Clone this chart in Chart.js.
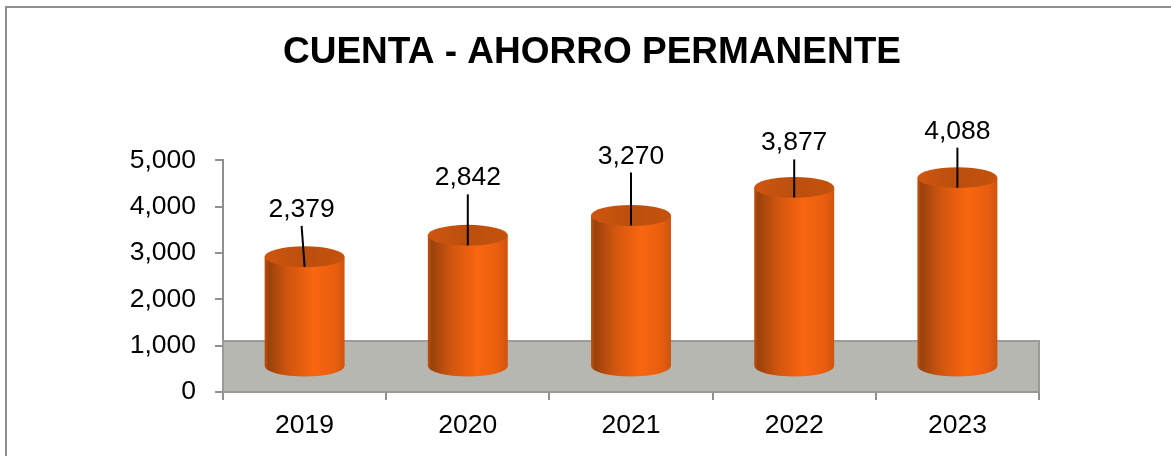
<!DOCTYPE html>
<html>
<head>
<meta charset="utf-8">
<title>Cuenta - Ahorro Permanente</title>
<script src="https://cdn.jsdelivr.net/npm/chart.js@4"></script>
<style>
  html, body { margin: 0; padding: 0; background: #fff; overflow: hidden; }
  #wrap { position: relative; width: 1171px; height: 456px; }
  #frame { position: absolute; left: 5px; top: 6px; right: -5px; bottom: -5px;
           border-left: 2px solid #8e8e8e; border-top: 2px solid #8e8e8e; }
  canvas { position: absolute; left: 0; top: 0; }
</style>
</head>
<body>
<div id="wrap">
  <div id="frame"></div>
  <canvas id="chart" width="1171" height="456"></canvas>
</div>
<script>
const years = ["2019", "2020", "2021", "2022", "2023"];
const ahorro = [2379, 2842, 3270, 3877, 4088];
const yTicks = [0, 1000, 2000, 3000, 4000, 5000];

const FONT = "'Liberation Sans', Arial, sans-serif";
const BAR_LIFT = 25;      // the 3D look: bars stand back on the floor
const FLOOR_TOP = 1100;   // back edge of the floor, in axis units
const CAP_RY = 10.5;
const LEADERS = [31, 41, 43, 28, 30]; // leader line length above each bar
const LEADER_LEAN = [-3, 0, 0, 0, 0];

function cylinderFill(ctx, x, halfWidth) {
  const g = ctx.createLinearGradient(x - halfWidth, 0, x + halfWidth, 0);
  g.addColorStop(0, "#c24f0f");
  g.addColorStop(0.05, "#9a420b");
  g.addColorStop(0.3, "#d2560f");
  g.addColorStop(0.62, "#f9660f");
  g.addColorStop(0.88, "#e85e0f");
  g.addColorStop(1, "#cf540e");
  return g;
}

const floorPlugin = {
  id: "floor",
  beforeDatasetsDraw(chart) {
    const { ctx, chartArea, scales } = chart;
    const top = scales.y.getPixelForValue(FLOOR_TOP);
    const bottom = scales.y.getPixelForValue(0);
    ctx.save();
    ctx.fillStyle = "#b5b7b0";
    ctx.fillRect(chartArea.left, top, chartArea.right - chartArea.left, bottom - top);
    ctx.strokeStyle = "#9a9a96";
    ctx.lineWidth = 2;
    ctx.strokeRect(chartArea.left, top, chartArea.right - chartArea.left, bottom - top);
    ctx.restore();
  }
};

const cylinderPlugin = {
  id: "cylinder",
  beforeDatasetDraw(chart) {
    const { ctx } = chart;
    ctx.save();
    ctx.translate(0, -BAR_LIFT);
    // rounded foot of each cylinder
    chart.getDatasetMeta(0).data.forEach((bar) => {
      const hw = bar.width / 2;
      ctx.fillStyle = cylinderFill(ctx, bar.x, hw);
      ctx.beginPath();
      ctx.ellipse(bar.x, bar.base, hw, CAP_RY, 0, 0, Math.PI);
      ctx.fill();
    });
  },
  afterDatasetDraw(chart) {
    const { ctx } = chart;
    chart.getDatasetMeta(0).data.forEach((bar) => {
      const hw = bar.width / 2;
      const g = ctx.createLinearGradient(bar.x - hw, 0, bar.x + hw, 0);
      g.addColorStop(0, "#cf5510");
      g.addColorStop(0.5, "#bb4f0d");
      g.addColorStop(1, "#c5520e");
      ctx.fillStyle = g;
      ctx.beginPath();
      ctx.ellipse(bar.x, bar.y, hw, CAP_RY, 0, 0, Math.PI * 2);
      ctx.fill();
    });
    ctx.restore();
  }
};

const labelPlugin = {
  id: "leaderLabels",
  afterDatasetsDraw(chart) {
    const { ctx } = chart;
    ctx.save();
    ctx.font = "26.5px " + FONT;
    ctx.textAlign = "center";
    ctx.textBaseline = "bottom";
    chart.getDatasetMeta(0).data.forEach((bar, i) => {
      const capY = bar.y - BAR_LIFT;
      const topY = capY - LEADERS[i];
      const topX = bar.x + LEADER_LEAN[i];
      ctx.strokeStyle = "#000";
      ctx.lineWidth = 2;
      ctx.beginPath();
      ctx.moveTo(topX, topY);
      ctx.lineTo(bar.x, capY + 10);
      ctx.stroke();
      ctx.fillStyle = "#000";
      ctx.fillText(ahorro[i].toLocaleString("en-US"), topX, topY - 3);
    });
    ctx.restore();
  }
};

new Chart(document.getElementById("chart"), {
  type: "bar",
  data: {
    labels: years,
    datasets: [{
      label: "Ahorro permanente",
      data: ahorro,
      barPercentage: 0.49,
      categoryPercentage: 1,
      backgroundColor(c) {
        const x = c.chart.scales.x;
        if (!x || !c.chart.chartArea) return "#e85e0f";
        const hw = (x.width / years.length) * 0.49 / 2;
        return cylinderFill(c.chart.ctx, x.getPixelForValue(c.dataIndex), hw);
      }
    }]
  },
  options: {
    responsive: false,
    animation: false,
    layout: { padding: { left: 13 } },
    plugins: {
      legend: { display: false },
      tooltip: { enabled: false },
      title: {
        display: true,
        text: "CUENTA - AHORRO PERMANENTE",
        color: "#000",
        font: { family: FONT, size: 37, weight: "bold", lineHeight: 1.2 },
        padding: { top: 31, bottom: 85 }
      }
    },
    scales: {
      x: {
        afterFit(s) { s.height = 64; },
        grid: { drawOnChartArea: false, color: "#8f8f8f", tickLength: 8, lineWidth: 2 },
        border: { color: "#8f8f8f", width: 2 },
        ticks: { color: "#000", font: { family: FONT, size: 26.5 }, padding: 10 }
      },
      y: {
        min: 0,
        max: 5000,
        afterFit(s) { s.width = 210; },
        afterBuildTicks(s) { s.ticks = yTicks.map((value) => ({ value })); },
        grid: { drawOnChartArea: false, color: "#8f8f8f", tickLength: 8, lineWidth: 2 },
        border: { color: "#8f8f8f", width: 2 },
        ticks: {
          color: "#000",
          font: { family: FONT, size: 26.5 },
          padding: 19,
          callback: (v) => v.toLocaleString("en-US")
        }
      },
      // empty axis: only keeps the plot clear of the right margin so the title stays centred on the page
      spacer: {
        position: "right",
        min: 0,
        max: 1,
        afterFit(s) { s.width = 132; },
        grid: { display: false },
        border: { display: false },
        ticks: { display: false }
      }
    }
  },
  plugins: [floorPlugin, cylinderPlugin, labelPlugin]
});
</script>
</body>
</html>
